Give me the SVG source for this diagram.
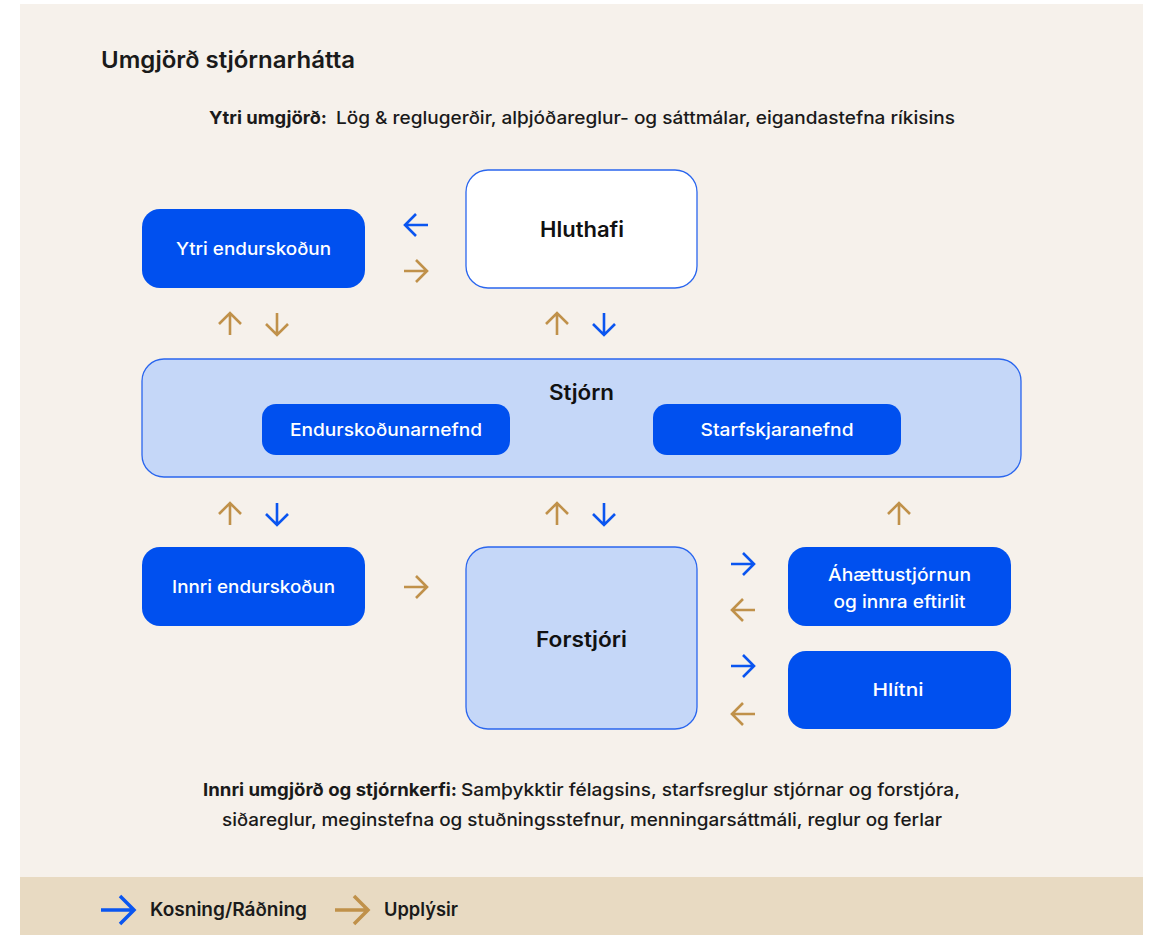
<svg xmlns="http://www.w3.org/2000/svg" width="1150" height="935" viewBox="0 0 1150 935">
<style>
text{font-family:Inter,"Noto Sans","Liberation Sans",sans-serif;}
.title{font-size:23px;font-weight:600;fill:#1a1a1a}
.hdr{font-size:17.5px;font-weight:500;fill:#1a1a1a}
.b{font-weight:700}
.big{font-size:21px;font-weight:600;fill:#111;text-anchor:middle}
.wl{font-size:17.5px;font-weight:500;fill:#fff;text-anchor:middle}
.dark{fill:#0050EF}
.light{fill:#C5D7F8;stroke:#2A66EE;stroke-width:1.3}
.white{fill:#fff;stroke:#2A66EE;stroke-width:1.3}
.ab{stroke:#0A55F0;stroke-width:2.6;fill:none}
.ag{stroke:#C0914A;stroke-width:2.6;fill:none}
.leg{font-size:18.5px;font-weight:600;fill:#1a1a1a}
</style>
<rect x="0" y="0" width="1150" height="935" fill="#fff"/>
<rect x="20" y="4" width="1123" height="873" fill="#F6F1EB"/>
<rect x="20" y="877" width="1123" height="58" fill="#E8DAC2"/>
<text class="title" x="101" y="68" textLength="254" lengthAdjust="spacingAndGlyphs">Umgjörð stjórnarhátta</text>
<text class="hdr b" x="209" y="124" textLength="118" lengthAdjust="spacingAndGlyphs">Ytri umgjörð:</text>
<text class="hdr" x="336" y="124" textLength="619" lengthAdjust="spacingAndGlyphs">Lög &amp; reglugerðir, alþjóðareglur- og sáttmálar, eigandastefna ríkisins</text>

<g id="node-ytri">
<rect class="dark" x="142" y="209" width="223" height="79" rx="18"/>
<text class="wl" x="253.5" y="255" textLength="155" lengthAdjust="spacingAndGlyphs">Ytri endurskoðun</text>
</g>
<g id="node-hluthafi">
<rect class="white" x="466" y="170" width="231" height="118" rx="22"/>
<text class="big" x="582" y="237" textLength="84" lengthAdjust="spacingAndGlyphs">Hluthafi</text>
</g>
<g id="node-stjorn">
<rect class="light" x="142" y="359" width="879" height="118" rx="22"/>
<text class="big" x="581.5" y="400" textLength="65" lengthAdjust="spacingAndGlyphs">Stjórn</text>
</g>
<g id="node-endurskodunarnefnd">
<rect class="dark" x="262" y="404" width="248" height="51" rx="14"/>
<text class="wl" x="386" y="436" textLength="192" lengthAdjust="spacingAndGlyphs">Endurskoðunarnefnd</text>
</g>
<g id="node-starfskjaranefnd">
<rect class="dark" x="653" y="404" width="248" height="51" rx="14"/>
<text class="wl" x="777" y="436" textLength="153" lengthAdjust="spacingAndGlyphs">Starfskjaranefnd</text>
</g>
<g id="node-innri">
<rect class="dark" x="142" y="547" width="223" height="79" rx="18"/>
<text class="wl" x="253.5" y="593" textLength="163" lengthAdjust="spacingAndGlyphs">Innri endurskoðun</text>
</g>
<g id="node-forstjori">
<rect class="light" x="466" y="547" width="231" height="182" rx="22"/>
<text class="big" x="581.5" y="647" textLength="91" lengthAdjust="spacingAndGlyphs">Forstjóri</text>
</g>
<g id="node-ahaettu">
<rect class="dark" x="788" y="547" width="223" height="79" rx="18"/>
<text class="wl" x="899.5" y="581" textLength="143" lengthAdjust="spacingAndGlyphs">Áhættustjórnun</text>
<text class="wl" x="899.5" y="608" textLength="132" lengthAdjust="spacingAndGlyphs">og innra eftirlit</text>
</g>
<g id="node-hlitni">
<rect class="dark" x="788" y="651" width="223" height="78" rx="18"/>
<text class="wl" x="898" y="696" textLength="51" lengthAdjust="spacingAndGlyphs">Hlítni</text>
</g>

<g id="connectors">
<path class="ab" d="M428 225H405M416 214L405 225L416 236"/>
<path class="ag" d="M404 271H427M416 260L427 271L416 282"/>
<path class="ag" d="M230 335V313M219 324L230 313L241 324"/>
<path class="ag" d="M277 313V335M266 324L277 335L288 324"/>
<path class="ag" d="M557 335V313M546 324L557 313L568 324"/>
<path class="ab" d="M604 313V335M593 324L604 335L615 324"/>
<path class="ag" d="M230 525V503M219 514L230 503L241 514"/>
<path class="ab" d="M277 503V525M266 514L277 525L288 514"/>
<path class="ag" d="M557 525V503M546 514L557 503L568 514"/>
<path class="ab" d="M604 503V525M593 514L604 525L615 514"/>
<path class="ag" d="M899 525V503M888 514L899 503L910 514"/>
<path class="ag" d="M404 587H427M416 576L427 587L416 598"/>
<path class="ab" d="M731 564H754M743 553L754 564L743 575"/>
<path class="ag" d="M755 610H732M743 599L732 610L743 621"/>
<path class="ab" d="M731 666H754M743 655L754 666L743 677"/>
<path class="ag" d="M755 714H732M743 703L732 714L743 725"/>
</g>

<text class="hdr b" x="203" y="796" textLength="254" lengthAdjust="spacingAndGlyphs">Innri umgjörð og stjórnkerfi:</text>
<text class="hdr" x="461" y="796" textLength="499" lengthAdjust="spacingAndGlyphs">Samþykktir félagsins, starfsreglur stjórnar og forstjóra,</text>
<text class="hdr" x="222" y="826" textLength="720" lengthAdjust="spacingAndGlyphs">siðareglur, meginstefna og stuðningsstefnur, menningarsáttmáli, reglur og ferlar</text>

<g id="legend">
<path d="M101 910H134M120 896L134 910L120 924" stroke="#0A55F0" stroke-width="3.5" fill="none"/>
<text class="leg" x="150" y="916" textLength="157" lengthAdjust="spacingAndGlyphs">Kosning/Ráðning</text>
<path d="M335 910H368M354 896L368 910L354 924" stroke="#C0914A" stroke-width="3.5" fill="none"/>
<text class="leg" x="384" y="916" textLength="74" lengthAdjust="spacingAndGlyphs">Upplýsir</text>
</g>
</svg>
